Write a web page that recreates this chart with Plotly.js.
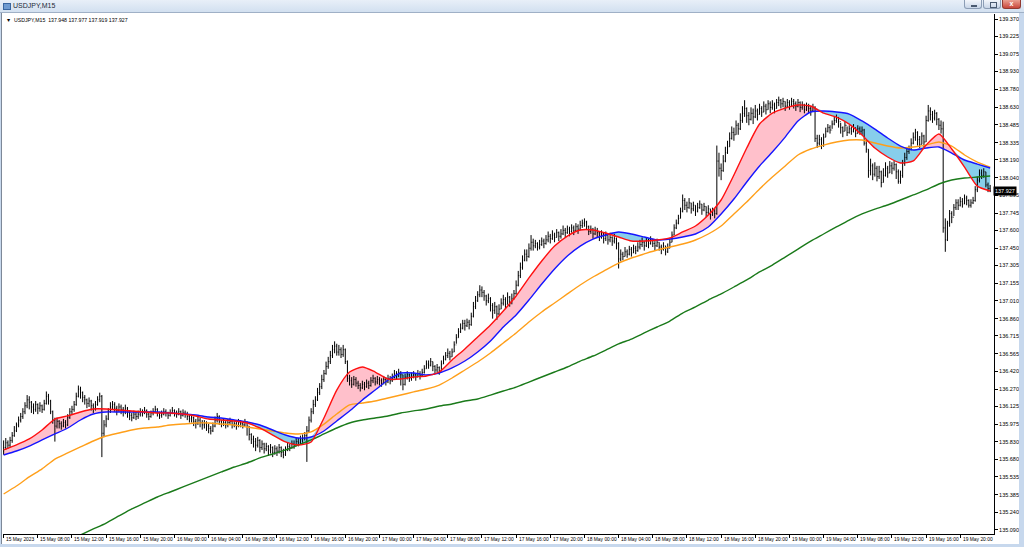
<!DOCTYPE html>
<html><head><meta charset="utf-8">
<script src="https://cdn.plot.ly/plotly-3.0.1.min.js"></script>
<style>
html,body{margin:0;padding:0;width:1024px;height:547px;overflow:hidden;background:#c7d8ed;font-family:"Liberation Sans",Arial,sans-serif}
#tb{position:absolute;left:0;top:0;width:1024px;height:13px;background:linear-gradient(to bottom,#e8eff8 0%,#d2e0f0 100%);border-bottom:1px solid #9fb0c6;box-sizing:border-box}
#tbicon{position:absolute;left:3px;top:3px;width:6px;height:5px;background:#6f9bd1;border:1px solid #3a66a0}
#tbtext{position:absolute;left:13px;top:0px;font-size:7px;line-height:12px;color:#1e2a38}
.btn{position:absolute;top:0;height:9px;width:18px;border:1px solid #8c9db5;border-top:0;box-sizing:border-box;background:linear-gradient(#f3f6fb,#c9d6e8);border-radius:0 0 3px 3px}
#bmin{left:964px}#bmax{left:983px}
#bclose{left:1002px;width:19px;background:linear-gradient(#eaa092,#c9473b);border-color:#913a31}
.g1{position:absolute;left:6px;top:5px;width:6px;height:2px;background:#4a5a70}
.g2{position:absolute;left:6px;top:2px;width:5px;height:4px;border:1px solid #4a5a70}
.g3{position:absolute;left:0;top:-1px;width:17px;text-align:center;color:#fff;font-size:7px;font-weight:bold;line-height:9px}
#lline{position:absolute;left:1px;top:13px;width:1px;height:531px;background:#7d8898}
#chart{position:absolute;left:2px;top:13px;width:1017px;height:531px;background:#fff}
</style></head>
<body>
<div id="tb"><div id="tbicon"></div><div id="tbtext">USDJPY,M15</div>
<div class="btn" id="bmin"><div class="g1"></div></div>
<div class="btn" id="bmax"><div class="g2"></div></div>
<div class="btn" id="bclose"><div class="g3">x</div></div></div>
<div id="lline"></div>
<div id="chart"></div>
<script>
// Prices of M15 bars in hundredths of a yen above PRICE_BASE (bar 0 = 15 May 04:00)
const PRICE_BASE = 135, PRICE_UNIT = 0.01;
const barOpen = [
75,78,82,80,84,88,92,97,101,104,108,113,118,116,112,110,
114,111,113,110,115,121,117,108,101,96,100,98,96,99,97,103,
108,110,114,121,127,124,120,118,115,117,113,111,114,118,121,90,
97,102,108,112,114,111,109,112,110,108,111,107,105,103,106,104,
106,108,107,109,106,104,107,108,110,107,105,106,108,107,105,107,
109,107,106,108,105,107,106,104,102,103,100,98,101,99,97,98,
96,94,92,96,101,104,100,98,99,97,99,100,97,98,96,99,
98,97,99,96,89,85,83,80,84,78,81,77,79,76,78,74,
77,75,78,74,72,76,79,78,81,80,83,82,85,86,88,92,
101,108,114,118,124,129,135,140,146,150,155,160,163,158,160,156,
160,150,136,134,131,135,132,130,128,131,129,132,130,134,136,133,
135,134,132,135,133,136,134,137,140,138,141,139,131,137,139,136,
138,139,137,140,138,141,144,148,147,150,146,143,145,142,148,152,
155,157,154,158,164,170,175,178,182,180,183,181,188,196,201,206,
210,208,205,201,203,197,193,196,190,194,199,202,198,204,200,203,
207,214,222,229,235,240,238,245,250,247,249,246,248,251,249,252,
255,253,256,254,258,255,257,260,258,261,259,262,260,263,261,264,
266,267,263,259,261,257,260,258,255,257,253,256,252,254,251,253,
249,236,240,238,242,240,244,241,245,243,246,248,250,247,251,249,
252,249,247,250,246,244,247,242,245,250,256,262,266,270,276,285,
281,279,283,278,281,276,279,282,277,280,275,278,273,276,274,318,
312,310,318,325,330,337,342,340,348,345,352,358,362,356,353,358,
355,360,357,362,359,364,361,366,363,365,362,367,369,366,368,364,
367,365,368,366,364,367,363,365,361,364,362,360,363,337,333,336,
331,338,343,346,344,349,352,354,351,346,343,348,342,345,343,346,
341,345,343,344,333,328,310,314,307,312,305,309,300,306,312,308,
314,312,315,309,301,306,316,321,326,328,333,338,342,336,332,339,
334,352,360,357,354,358,353,348,345,262,252,266,274,271,279,283,
281,284,282,287,285,281,283,285,294,302,308,306,309,298,295];
const barHigh = [
84,86,84,87,91,96,99,104,107,111,116,122,121,117,115,117,
115,116,114,118,125,123,118,109,103,103,101,100,102,101,106,111,
113,117,124,130,129,125,122,119,120,118,115,117,121,124,122,101,
105,111,116,117,116,113,115,114,112,114,112,109,107,109,108,109,
111,110,112,110,108,109,111,113,111,108,109,111,110,108,110,112,
110,109,111,109,110,109,108,106,106,104,102,104,103,101,101,100,
98,96,99,104,107,105,101,102,101,102,103,101,101,100,102,101,
100,102,100,96,90,88,86,87,85,84,82,82,80,81,79,80,
79,81,79,77,79,82,81,84,84,86,86,88,89,91,96,104,
111,118,121,128,132,139,143,150,154,159,164,167,165,164,162,164,
161,151,139,137,138,137,134,132,134,133,135,134,137,139,137,138,
137,136,138,137,139,138,140,143,142,144,142,139,140,142,140,141,
142,140,143,142,144,147,151,151,153,150,147,148,146,151,155,158,
161,159,161,167,173,178,182,185,185,186,185,191,200,205,209,214,
213,210,206,207,204,199,200,197,198,203,206,204,208,205,207,210,
218,226,233,239,244,244,249,256,253,252,250,252,254,253,256,259,
257,260,258,261,259,261,264,262,264,263,265,264,266,265,268,269,
270,268,264,264,262,263,262,259,260,258,259,256,258,255,257,254,
250,244,242,246,244,247,246,248,247,250,252,254,251,254,253,255,
253,251,253,250,248,250,247,249,253,259,265,269,273,279,290,287,
284,287,283,284,281,283,285,282,283,280,281,278,279,278,331,325,
316,323,330,335,342,347,346,352,350,358,364,369,363,359,363,362,
365,362,366,364,368,366,369,368,369,367,370,372,370,371,368,370,
369,371,370,368,370,368,368,366,367,366,364,366,364,340,340,338,
341,346,349,348,352,355,357,355,350,347,351,347,348,347,349,346,
348,347,347,345,336,328,320,316,317,314,314,310,312,317,314,318,
317,318,316,311,310,319,325,329,331,337,342,345,343,339,342,340,
356,365,363,360,361,359,354,352,351,270,268,277,276,282,286,286,
288,287,290,289,286,286,288,297,305,311,311,312,309,300,298];
const barLow = [
72,76,77,78,82,87,91,95,99,102,106,111,110,107,106,108,
106,108,107,109,114,114,106,98,83,94,94,93,95,94,96,102,
106,108,113,120,119,116,114,111,112,109,107,109,113,116,70,87,
95,101,107,110,108,105,108,106,104,106,103,101,100,102,101,102,
104,104,106,103,101,103,105,107,104,102,103,105,104,102,104,106,
104,103,105,102,104,103,101,99,99,96,94,97,95,93,94,92,
90,89,91,95,99,97,95,96,94,95,97,94,95,93,95,95,
94,96,88,84,81,78,75,78,74,76,73,75,71,73,70,72,
71,73,70,69,71,75,75,77,77,79,79,81,82,84,66,91,
99,106,112,117,122,127,133,139,144,148,153,157,155,155,153,154,
148,133,130,128,130,129,127,125,127,126,128,127,129,132,130,131,
130,129,131,130,132,131,133,136,135,137,130,126,130,135,133,134,
136,134,137,135,138,140,144,144,146,142,140,141,139,142,148,151,
153,151,154,158,165,170,174,177,176,179,177,180,187,194,200,204,
204,201,197,199,192,186,190,185,189,194,197,194,198,196,198,202,
206,213,220,227,234,234,237,243,243,245,243,244,247,245,248,250,
249,252,250,254,251,253,256,254,257,255,258,256,259,257,260,262,
263,261,256,257,253,256,254,251,253,249,251,248,250,247,249,244,
228,234,235,238,237,239,238,241,240,242,244,246,243,246,245,248,
246,243,246,243,240,243,239,241,245,250,256,261,265,270,275,277,
275,278,274,276,272,275,278,273,276,271,273,269,272,270,273,305,
302,309,317,324,330,336,335,340,340,344,350,355,350,348,352,349,
354,352,357,355,359,357,361,358,361,358,362,364,362,363,360,363,
361,364,362,360,363,359,361,358,360,358,356,359,334,329,331,328,
330,338,342,341,345,348,350,346,341,338,343,339,341,340,342,338,
341,340,340,331,325,304,306,302,305,301,303,296,300,305,304,308,
307,310,303,299,299,304,314,319,324,327,332,335,331,329,332,330,
334,351,352,350,352,348,344,341,258,242,251,263,266,272,277,277,
280,279,282,281,279,279,282,284,292,300,303,304,296,292,292];
const barClose = [
78,82,80,84,88,92,97,101,104,108,113,118,116,112,110,114,
111,113,110,115,121,117,108,101,96,100,98,96,99,97,103,108,
110,114,121,127,124,120,118,115,117,113,111,114,118,121,90,97,
102,108,112,114,111,109,112,110,108,111,107,105,103,106,104,106,
108,107,109,106,104,107,108,110,107,105,106,108,107,105,107,109,
107,106,108,105,107,106,104,102,103,100,98,101,99,97,98,96,
94,92,96,101,104,100,98,99,97,99,100,97,98,96,99,98,
97,99,96,89,85,83,80,84,78,81,77,79,76,78,74,77,
75,78,74,72,76,79,78,81,80,83,82,85,86,88,92,101,
108,114,118,124,129,135,140,146,150,155,160,163,158,160,156,160,
150,136,134,131,135,132,130,128,131,129,132,130,134,136,133,135,
134,132,135,133,136,134,137,140,138,141,139,131,137,139,136,138,
139,137,140,138,141,144,148,147,150,146,143,145,142,148,152,155,
157,154,158,164,170,175,178,182,180,183,181,188,196,201,206,210,
208,205,201,203,197,193,196,190,194,199,202,198,204,200,203,207,
214,222,229,235,240,238,245,250,247,249,246,248,251,249,252,255,
253,256,254,258,255,257,260,258,261,259,262,260,263,261,264,266,
267,263,259,261,257,260,258,255,257,253,256,252,254,251,253,249,
236,240,238,242,240,244,241,245,243,246,248,250,247,251,249,252,
249,247,250,246,244,247,242,245,250,256,262,266,270,276,285,281,
279,283,278,281,276,279,282,277,280,275,278,273,276,274,318,312,
310,318,325,330,337,342,340,348,345,352,358,362,356,353,358,355,
360,357,362,359,364,361,366,363,365,362,367,369,366,368,364,367,
365,368,366,364,367,363,365,361,364,362,360,363,337,333,336,331,
338,343,346,344,349,352,354,351,346,343,348,342,345,343,346,341,
345,343,344,333,328,310,314,307,312,305,309,300,306,312,308,314,
312,315,309,301,306,316,321,326,328,333,338,342,336,332,339,334,
352,360,357,354,358,353,348,345,262,252,266,274,271,279,283,281,
284,282,287,285,281,283,285,294,302,308,306,309,298,295,293];

// Moving averages read every MA_STEP bars (prices)
const MA_STEP = 6;
const maRed = [
135.760,135.802,135.852,135.927,136.019,136.045,136.078,136.103,136.103,136.095,
136.086,136.078,136.070,136.070,136.061,136.045,136.019,136.011,136.003,135.986,
135.944,135.885,135.827,135.802,135.827,136.028,136.262,136.413,136.455,136.413,
136.354,136.354,136.371,136.380,136.413,136.514,136.606,136.706,136.807,136.924,
137.050,137.201,137.343,137.468,137.552,137.603,137.603,137.577,137.544,137.510,
137.510,137.519,137.536,137.586,137.636,137.728,137.854,138.063,138.289,138.490,
138.582,138.624,138.650,138.641,138.582,138.549,138.490,138.398,138.289,138.214,
138.164,138.181,138.314,138.407,138.281,138.130,137.970,137.929];
const maBlue = [
135.718,135.751,135.793,135.844,135.894,135.944,136.011,136.061,136.078,136.078,
136.078,136.078,136.078,136.070,136.061,136.053,136.036,136.028,136.011,135.994,
135.969,135.927,135.885,135.860,135.869,135.919,136.003,136.086,136.179,136.262,
136.346,136.405,136.405,136.388,136.405,136.447,136.505,136.581,136.673,136.790,
136.891,137.016,137.150,137.276,137.385,137.468,137.527,137.561,137.586,137.569,
137.544,137.519,137.527,137.544,137.569,137.628,137.737,137.862,138.005,138.139,
138.256,138.381,138.516,138.591,138.599,138.591,138.574,138.516,138.448,138.373,
138.306,138.273,138.289,138.298,138.247,138.189,138.155,138.122];
const maOrange = [
135.391,135.458,135.534,135.601,135.684,135.735,135.785,135.835,135.877,135.902,
135.927,135.944,135.952,135.969,135.977,135.986,135.986,135.977,135.969,135.952,
135.936,135.919,135.902,135.894,135.911,135.977,136.061,136.137,136.153,136.170,
136.195,136.220,136.246,136.271,136.304,136.363,136.430,136.497,136.572,136.656,
136.740,136.832,136.916,136.991,137.067,137.142,137.209,137.268,137.326,137.368,
137.402,137.435,137.460,137.485,137.519,137.569,137.636,137.737,137.837,137.946,
138.046,138.139,138.231,138.281,138.314,138.340,138.356,138.356,138.331,138.306,
138.289,138.298,138.314,138.340,138.306,138.231,138.172,138.130];
const maGreen = [
null,null,null,null,null,null,
135.048,135.098,135.148,135.207,135.266,135.316,135.366,135.408,135.450,135.492,
135.534,135.576,135.617,135.651,135.693,135.726,135.760,135.802,135.844,135.894,
135.944,135.986,136.011,136.028,136.045,136.070,136.087,136.103,136.128,136.145,
136.170,136.187,136.220,136.254,136.287,136.329,136.371,136.413,136.455,136.505,
136.547,136.597,136.648,136.689,136.740,136.790,136.840,136.907,136.958,137.016,
137.067,137.125,137.184,137.251,137.309,137.376,137.443,137.510,137.569,137.628,
137.686,137.737,137.778,137.812,137.854,137.896,137.938,137.988,138.021,138.038,
138.046,138.055];

const priceTicks = [139.370,139.225,139.075,138.930,138.780,138.630,138.485,138.335,138.190,138.040,
137.895,137.745,137.600,137.450,137.305,137.155,137.010,136.860,136.715,136.565,
136.420,136.270,136.125,135.975,135.830,135.680,135.535,135.385,135.240,135.090];
const timeLabels = ["15 May 2023","15 May 08:00","15 May 12:00","15 May 16:00","15 May 20:00",
"16 May 00:00","16 May 04:00","16 May 08:00","16 May 12:00","16 May 16:00","16 May 20:00",
"17 May 00:00","17 May 04:00","17 May 08:00","17 May 12:00","17 May 16:00","17 May 20:00",
"18 May 00:00","18 May 04:00","18 May 08:00","18 May 12:00","18 May 16:00","18 May 20:00",
"19 May 00:00","19 May 04:00","19 May 08:00","19 May 12:00","19 May 16:00","19 May 20:00"];
const BARS_PER_LABEL = 16;
const lastBar = {o:137.948, h:137.977, l:137.919, c:137.927};

const px = v => +(PRICE_BASE + v*PRICE_UNIT).toFixed(3);
const barX = barClose.map((_,i)=>i);
const maX = maRed.map((_,k)=>k*MA_STEP);
const maTop = maRed.map((r,k)=>Math.max(r, maBlue[k]));
const FONT = '"Liberation Sans", Arial, sans-serif';
const SM = 0.6;

const traces = [
 {x:maX,y:maBlue,mode:'lines',line:{width:0,shape:'spline',smoothing:SM},hoverinfo:'skip',showlegend:false},
 {x:maX,y:maTop,mode:'lines',line:{width:0,shape:'spline',smoothing:SM},fill:'tonexty',fillcolor:'#ffc0cb',hoverinfo:'skip',showlegend:false},
 {x:maX,y:maRed,mode:'lines',line:{width:0,shape:'spline',smoothing:SM},hoverinfo:'skip',showlegend:false},
 {x:maX,y:maTop,mode:'lines',line:{width:0,shape:'spline',smoothing:SM},fill:'tonexty',fillcolor:'#87ceeb',hoverinfo:'skip',showlegend:false},
 {type:'ohlc',x:barX,open:barOpen.map(px),high:barHigh.map(px),low:barLow.map(px),close:barClose.map(px),
  xaxis:'x',yaxis:'y2',tickwidth:0.3,
  increasing:{line:{color:'#000000',width:1}},decreasing:{line:{color:'#000000',width:1}},
  hoverinfo:'skip',showlegend:false},
 {x:maX,y:maGreen,yaxis:'y2',mode:'lines',line:{color:'#1a7a1a',width:1.4,shape:'spline',smoothing:SM},hoverinfo:'skip',showlegend:false},
 {x:maX,y:maOrange,yaxis:'y2',mode:'lines',line:{color:'#ff9f1a',width:1.4,shape:'spline',smoothing:SM},hoverinfo:'skip',showlegend:false},
 {x:maX,y:maBlue,yaxis:'y2',mode:'lines',line:{color:'#1515ff',width:1.4,shape:'spline',smoothing:SM},hoverinfo:'skip',showlegend:false},
 {x:maX,y:maRed,yaxis:'y2',mode:'lines',line:{color:'#ff1010',width:1.4,shape:'spline',smoothing:SM},hoverinfo:'skip',showlegend:false}
];

const YR = [135.056, 139.412];
const XR = [-0.3, 463.8];
const annotations = timeLabels.map((t,k)=>({
  text:t, x:k*BARS_PER_LABEL, xref:'x', y:0, yref:'paper', xanchor:'left', yanchor:'top',
  xshift:0.5, yshift:-1, showarrow:false, font:{size:4.9,color:'#000',family:FONT}
}));
annotations.push({
  text:'\u25BC  USDJPY,M15  '+[lastBar.o,lastBar.h,lastBar.l,lastBar.c].map(v=>v.toFixed(3)).join(' '),
  x:0, xref:'paper', y:1, yref:'paper', xanchor:'left', yanchor:'top', xshift:1, yshift:-1,
  showarrow:false, font:{size:5.2,color:'#000',family:FONT}
});
annotations.push({
  text:lastBar.c.toFixed(3), x:1, xref:'paper', y:lastBar.c, yref:'y', xanchor:'left', yanchor:'middle',
  xshift:-1, showarrow:false, bgcolor:'#000', borderpad:1, font:{size:5.5,color:'#fff',family:FONT}
});

const layout = {
  width:1017, height:531,
  margin:{l:1,r:25,t:1,b:10,pad:0},
  paper_bgcolor:'#ffffff', plot_bgcolor:'#ffffff',
  showlegend:false, hovermode:false,
  font:{family:FONT,size:5.5,color:'#000'},
  xaxis:{range:XR, showline:true, linecolor:'#000', linewidth:1, ticks:'outside', ticklen:3, tickcolor:'#000',
    tickmode:'array', tickvals:timeLabels.map((_,k)=>k*BARS_PER_LABEL), showticklabels:false,
    showgrid:false, zeroline:false, fixedrange:true, rangeslider:{visible:false}},
  yaxis:{range:YR, side:'right', showline:true, linecolor:'#000', linewidth:1, ticks:'outside', ticklen:3, tickcolor:'#000',
    tickmode:'array', tickvals:priceTicks, ticktext:priceTicks.map(v=>v.toFixed(3)),
    tickfont:{size:5.5,color:'#000',family:FONT}, showgrid:false, zeroline:false, fixedrange:true},
  yaxis2:{range:YR, overlaying:'y', visible:false, fixedrange:true, showgrid:false, zeroline:false},
  annotations
};
Plotly.newPlot('chart', traces, layout, {staticPlot:true, displayModeBar:false});
</script>
</body></html>
